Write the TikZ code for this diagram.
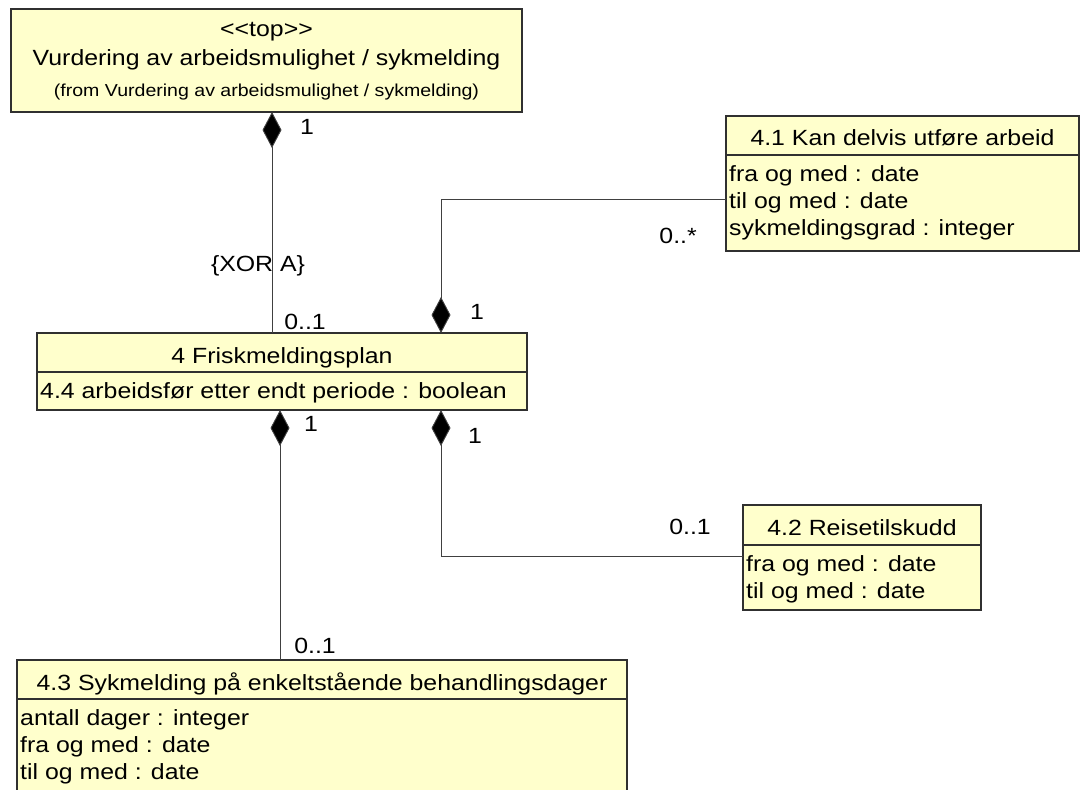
\documentclass[tikz,border=0pt]{standalone}
\usepackage{fontspec}
\setmainfont{Liberation Sans}[FakeStretch=1.13]
\usetikzlibrary{arrows.meta}
\definecolor{boxfill}{HTML}{FFFFCC}
\definecolor{edgecol}{HTML}{303030}
\definecolor{linecol}{HTML}{404040}
\begin{document}
\begin{tikzpicture}[x=1pt,y=-1pt,
  cls/.style={draw=edgecol, fill=boxfill, line width=1.1pt, anchor=north west, inner sep=0pt, outer sep=0pt},
  divider/.style={draw=edgecol, line width=1.1pt},
  txt/.style={font=\fontsize{22}{26}\selectfont, inner sep=0pt, anchor=base},
  attr/.style={txt, anchor=base west},
  small/.style={font=\fontsize{17.3}{20}\selectfont, inner sep=0pt, anchor=base},
  mult/.style={font=\fontsize{22}{26}\selectfont, inner sep=0pt},
  comp/.style={{Diamond[length=36pt,width=19pt,fill=black]}-, draw=linecol, line width=0.9pt}]
\useasboundingbox (0,0) rectangle (1083,789);

% classes
\node[cls, minimum width=511pt, minimum height=103pt] (top) at (11,9) {};
\node[txt] (topst) at (266.5,37) {<{}<top>{}>};
\node[txt] (topname) at (266.5,66) {Vurdering av arbeidsmulighet / sykmelding};
\node[small] (topfrom) at (266.5,96) {(from Vurdering av arbeidsmulighet / sykmelding)};

\node[cls, minimum width=490pt, minimum height=77pt] (box4) at (37,333) {};
\coordinate (d4) at (0,372);
\draw[divider] (box4.west |- d4) -- (box4.east |- d4);
\node[txt] (t4) at (282,363) {4 Friskmeldingsplan};
\node[attr] (a4) at (40,398) {4.4 arbeidsfør etter endt periode : boolean};

\node[cls, minimum width=353pt, minimum height=135pt] (b41) at (726,116) {};
\coordinate (d41) at (0,155);
\draw[divider] (b41.west |- d41) -- (b41.east |- d41);
\node[txt] (t41) at (902.5,146) {4.1 Kan delvis utføre arbeid};
\node[attr] (a41a) at (729,181) {fra og med : date};
\node[attr] (a41b) at (729,208) {til og med : date};
\node[attr] (a41c) at (729,235) {sykmeldingsgrad : integer};

\node[cls, minimum width=238pt, minimum height=105pt] (b42) at (743,505) {};
\coordinate (d42) at (0,545);
\draw[divider] (b42.west |- d42) -- (b42.east |- d42);
\node[txt] (t42) at (862,535) {4.2 Reisetilskudd};
\node[attr] (a42a) at (746,571) {fra og med : date};
\node[attr] (a42b) at (746,598) {til og med : date};

\node[cls, minimum width=610pt, minimum height=134pt] (b43) at (17,660) {};
\coordinate (d43) at (0,699);
\draw[divider] (b43.west |- d43) -- (b43.east |- d43);
\node[txt] (t43) at (322,690) {4.3 Sykmelding på enkeltstående behandlingsdager};
\node[attr] (a43a) at (20,725) {antall dager : integer};
\node[attr] (a43b) at (20,752) {fra og med : date};
\node[attr] (a43c) at (20,779) {til og med : date};

% connector x/y guides
\coordinate (xA) at (272,0);
\coordinate (xB) at (441,0);
\coordinate (xC) at (280,0);
\coordinate (yB) at (0,199);
\coordinate (yD) at (0,556);

% connectors
\draw[comp] (top.south -| xA) -- (box4.north -| xA);
\draw[comp] (box4.north -| xB) |- (b41.west |- yB);
\draw[comp] (box4.south -| xC) -- (b43.north -| xC);
\draw[comp] (box4.south -| xB) |- (b42.west |- yD);

% labels
\node[mult, anchor=base west] (m1) at (300,135) {1};
\node[mult] (xor) at (258,266) {\{XOR A\}};
\node[mult] (m2) at (305,322) {0..1};
\node[mult] (m3) at (477,312) {1};
\node[mult, anchor=base east] (m4) at (697,243) {0..*};
\node[mult] (m5) at (311,424) {1};
\node[mult] (m6) at (475,436) {1};
\node[mult] (m7) at (315,646) {0..1};
\node[mult] (m8) at (690,527) {0..1};
\end{tikzpicture}
\end{document}
